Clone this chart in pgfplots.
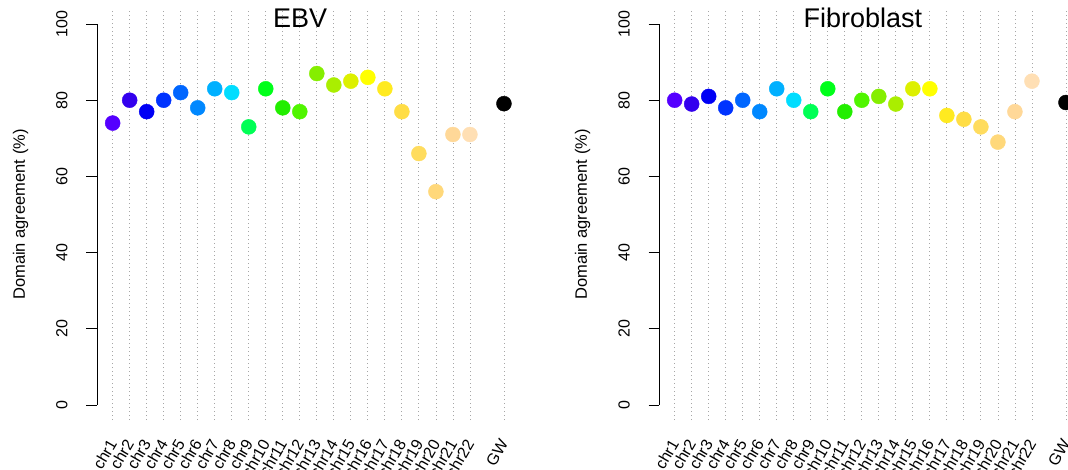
\documentclass[border=0pt]{standalone}
\usepackage{fontspec}
\setmainfont{Liberation Sans}
\usepackage{pgfplots}
\pgfplotsset{compat=1.18}
\usepackage{pgfplotstable}

\definecolor{c1}{HTML}{5500FF}
\definecolor{c2}{HTML}{3300EE}
\definecolor{c3}{HTML}{0000F5}
\definecolor{c4}{HTML}{0033FF}
\definecolor{c5}{HTML}{0066FF}
\definecolor{c6}{HTML}{0088FF}
\definecolor{c7}{HTML}{00B0FF}
\definecolor{c8}{HTML}{00DDFF}
\definecolor{c9}{HTML}{00FF55}
\definecolor{c10}{HTML}{00FF1A}
\definecolor{c11}{HTML}{22EE00}
\definecolor{c12}{HTML}{50F500}
\definecolor{c13}{HTML}{85EE00}
\definecolor{c14}{HTML}{AAEE00}
\definecolor{c15}{HTML}{DDF000}
\definecolor{c16}{HTML}{FFFF00}
\definecolor{c17}{HTML}{FFEA20}
\definecolor{c18}{HTML}{FFDD45}
\definecolor{c19}{HTML}{FFDC5E}
\definecolor{c20}{HTML}{FFD87A}
\definecolor{c21}{HTML}{FFD898}
\definecolor{c22}{HTML}{FFDFB4}
\definecolor{gw}{HTML}{000000}

\pgfplotstableread{
x y c
1 74 c1
2 80 c2
3 77 c3
4 80 c4
5 82 c5
6 78 c6
7 83 c7
8 82 c8
9 73 c9
10 83 c10
11 78 c11
12 77 c12
13 87 c13
14 84 c14
15 85 c15
16 86 c16
17 83 c17
18 77 c18
19 66 c19
20 56 c20
21 71 c21
22 71 c22
24 79.1 gw
}\ebvdata

\pgfplotstableread{
x y c
1 80 c1
2 79 c2
3 81 c3
4 78 c4
5 80 c5
6 77 c6
7 83 c7
8 80 c8
9 77 c9
10 83 c10
11 77 c11
12 80 c12
13 81 c13
14 79 c14
15 83 c15
16 83 c16
17 76 c17
18 75 c18
19 73 c19
20 69 c20
21 77 c21
22 85 c22
24 79.4 gw
}\fibdata

\pgfplotsset{
  panel/.style={
    scale only axis, width=422.6pt, height=411.4pt,
    xmin=0.08, xmax=24.92, ymin=-4, ymax=104,
    axis line style={draw=none},
    clip=false,
    axis on top,
    xtick={1,...,22,24},
    xticklabels={chr1,chr2,chr3,chr4,chr5,chr6,chr7,chr8,chr9,chr10,chr11,chr12,chr13,chr14,chr15,chr16,chr17,chr18,chr19,chr20,chr21,chr22,GW},
    xtick style={draw=none},
    xmajorgrids,
    major x grid style={draw=black!35, line width=0.8pt, dash pattern=on 0.9pt off 3.1pt},
    ytick={0,20,40,60,80,100},
    ytick pos=left, tick align=outside, major tick length=10.5pt,
    ytick style={black, line width=0.9pt},
    /pgf/number format/assume math mode=true,
    tick label style={font=\fontsize{16}{19}\selectfont},
    yticklabel style={rotate=90, anchor=base, inner sep=0pt, yshift=19pt},
    xticklabel style={rotate=60, anchor=east, inner sep=0pt, xshift=-8.7pt, yshift=-5pt},
    ylabel={Domain agreement (\%)},
    ylabel style={font=\fontsize{16.5}{20}\selectfont, at={(axis description cs:-0.1704,0.5)}, anchor=base, rotate=0},
    title style={font=\fontsize{27}{32}\selectfont, anchor=base},
    mark size=7.5pt,
    scatter/classes={
      c1={mark=*,c1}, c2={mark=*,c2}, c3={mark=*,c3}, c4={mark=*,c4},
      c5={mark=*,c5}, c6={mark=*,c6}, c7={mark=*,c7}, c8={mark=*,c8},
      c9={mark=*,c9}, c10={mark=*,c10}, c11={mark=*,c11}, c12={mark=*,c12},
      c13={mark=*,c13}, c14={mark=*,c14}, c15={mark=*,c15}, c16={mark=*,c16},
      c17={mark=*,c17}, c18={mark=*,c18}, c19={mark=*,c19}, c20={mark=*,c20},
      c21={mark=*,c21}, c22={mark=*,c22}, gw={mark=*,gw}},
  }
}

\begin{document}
\begin{tikzpicture}
\useasboundingbox (0,0) rectangle (1068pt,470pt);
\clip (0,0) rectangle (1068pt,470pt);
\begin{axis}[panel, at={(97pt,49.8pt)}, anchor=south west,
  title={EBV}, title style={at={(axis description cs:0.4804,0.9405)}}]
  \addplot[scatter, only marks, point meta=explicit symbolic] table[x=x, y=y, meta=c] {\ebvdata};
  \draw[black, line width=0.9pt] (axis cs:0.08,0) -- (axis cs:0.08,100);
\end{axis}
\begin{axis}[panel, at={(659pt,49.8pt)}, anchor=south west,
  title={Fibroblast}, title style={at={(axis description cs:0.4827,0.9405)}}]
  \addplot[scatter, only marks, point meta=explicit symbolic] table[x=x, y=y, meta=c] {\fibdata};
  \draw[black, line width=0.9pt] (axis cs:0.08,0) -- (axis cs:0.08,100);
\end{axis}
\end{tikzpicture}
\end{document}
